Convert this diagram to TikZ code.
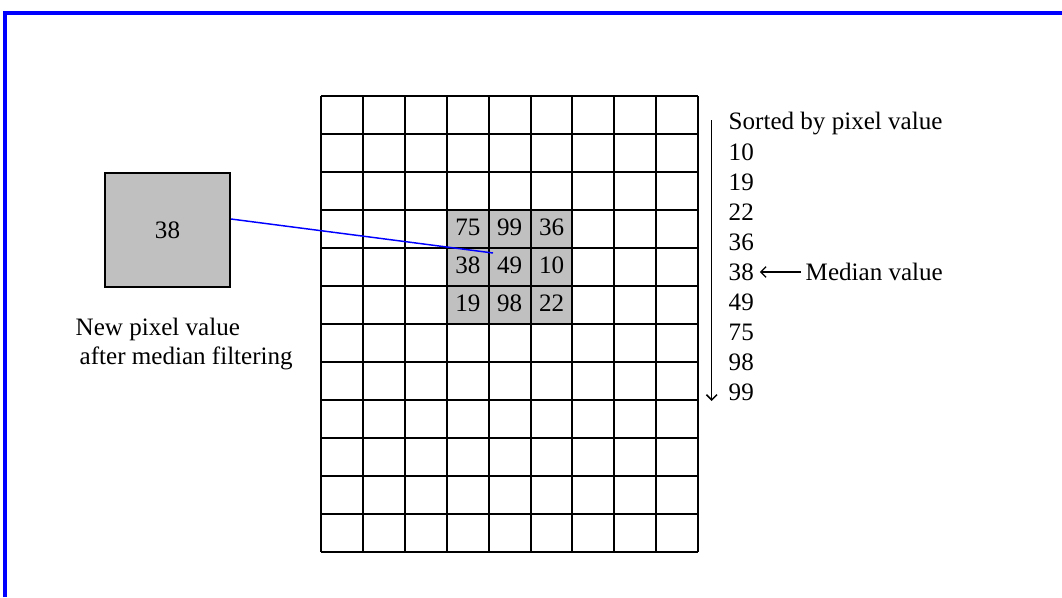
\documentclass[tikz,border=0pt]{standalone}
\usepackage{fontspec}
\setmainfont{Liberation Serif}
\usetikzlibrary{arrows.meta}
\definecolor{cellgray}{HTML}{C0C0C0}
\definecolor{framblue}{HTML}{0000FF}

\begin{document}
\begin{tikzpicture}[x=0.75pt, y=-0.75pt, font=\fontsize{18.8}{21}\selectfont]
\useasboundingbox (0,0) rectangle (1062,597);

% Frame
\draw[framblue, line width=3pt] (4.5,597) -- (4.5,13) -- (1062,13);

% Image grid
\fill[cellgray] (446.8,210) rectangle (572.5,324);
\foreach \i in {0,...,9}
  \draw[line width=1.5pt] (321+\i*41.9,96) -- (321+\i*41.9,552);
\foreach \j in {0,...,12}
  \draw[line width=1.5pt] (321,96+\j*38) -- (698,96+\j*38);

% Neighbourhood values
\node (c11) at (467.8,227) {75};
\node (c12) at (509.7,227) {99};
\node (c13) at (551.6,227) {36};
\node (c21) at (467.8,265) {38};
\node (c22) at (509.7,265) {49};
\node (c23) at (551.6,265) {10};
\node (c31) at (467.8,303) {19};
\node (c32) at (509.7,303) {98};
\node (c33) at (551.6,303) {22};

% New pixel
\node[draw, fill=cellgray, line width=1.5pt, minimum width=93.75pt, minimum height=85.5pt] (newpix) at (167.5,230) {38};
\coordinate (hit) at (493,253);
\draw[framblue, line width=1.1pt] ([yshift=8.25pt]newpix.east) -- (hit);
\node[anchor=west] (cap1) at (71,329) {New pixel value};
\node[anchor=west] (cap2) at (75,358) {after median filtering};

% Sorted list
\coordinate (sortTop) at (711.7,120);
\coordinate (sortEnd) at (711.7,401);
\draw[line width=1.1pt, -{Straight Barb[length=4pt, width=8pt]}] (sortTop) -- (sortEnd);
\node[anchor=west] (head) at (724,124) {Sorted by pixel value};
\foreach \v [count=\k] in {10,19,22,36,38,49,75,98,99}
  \node[anchor=west] (s\k) at (724,122+\k*30) {\v};
\node[anchor=west] (med) at (801,272) {Median value};
\draw[line width=1pt, -{Straight Barb[length=4pt, width=8pt]}] (med.west) -- ([xshift=1pt]s5.east);
\end{tikzpicture}
\end{document}
